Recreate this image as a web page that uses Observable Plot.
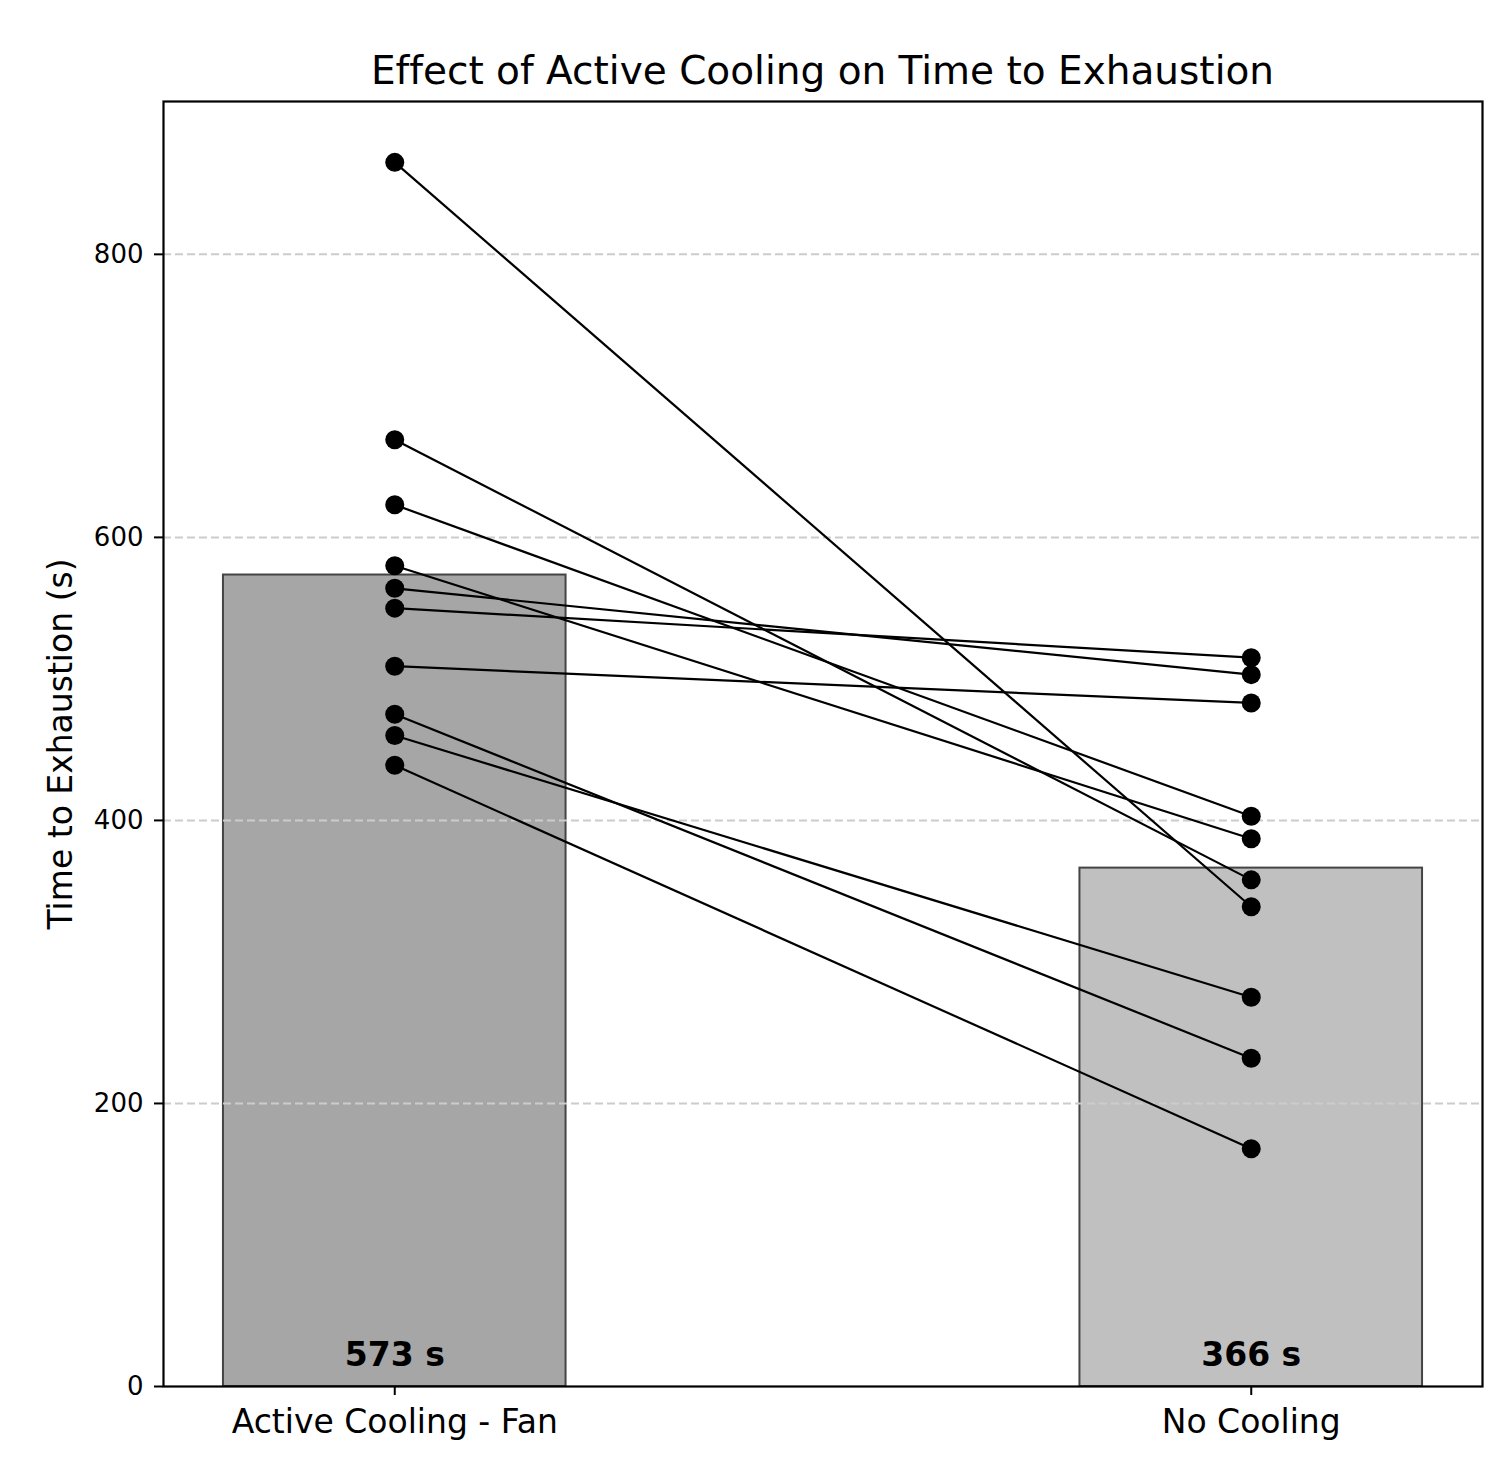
<!DOCTYPE html>
<html><head><meta charset="utf-8">
<script src="https://cdn.jsdelivr.net/npm/d3@7"></script>
<script src="https://cdn.jsdelivr.net/npm/@observablehq/plot@0.6"></script>
<style>
body{margin:0;background:#fff;font-family:"DejaVu Sans",sans-serif;}
#title{height:90px;box-sizing:border-box;padding:53px 26px 0 163px;text-align:center;font-size:39px;line-height:35px;color:#000;white-space:nowrap;font-variant-ligatures:none;font-feature-settings:"liga" 0;}
svg text{font-variant-ligatures:none;}
</style></head><body>
<div id="title">Effect of Active Cooling on Time to Exhaustion</div>
<div id="chart"></div>
<script>
const categories = ["Active Cooling - Fan", "No Cooling"];
const activeCooling = [865, 669, 623, 580, 564, 550, 509, 475, 460, 439];
const noCooling = [339, 358, 403, 387, 503, 515, 483, 232, 275, 168];
const yTicks = [0, 200, 400, 600, 800];
const gridTicks = [200, 400, 600, 800];
const barFills = ["#a6a6a6", "#c0c0c0"];
const yLabel = "Time to Exhaustion (s)";

const series = [activeCooling, noCooling];
const bars = categories.map((c, i) => ({i, cat: c, mean: d3.mean(series[i]), fill: barFills[i]}));
const pairs = activeCooling.map((a, k) => ({a, n: noCooling[k]}));
const dots = [];
series.forEach((s, i) => s.forEach(v => dots.push({i, v})));

const chart = Plot.plot({
  width: 1508,
  height: 1394,
  marginTop: 11,
  marginBottom: 98,
  marginLeft: 163,
  marginRight: 26,
  style: {fontFamily: "DejaVu Sans", background: "white", color: "black"},
  x: {type: "linear", domain: [-0.27, 1.27]},
  y: {domain: [0, 908]},
  marks: [
    Plot.rect(bars, {x1: d => d.i - 0.2, x2: d => d.i + 0.2, y1: d => 0, y2: "mean", fill: "fill", stroke: "#444", strokeWidth: 2}),
    Plot.gridY(gridTicks, {stroke: "#cccccc", strokeOpacity: 1, strokeWidth: 2, strokeDasharray: "8,4"}),
    Plot.link(pairs, {x1: d => 0, y1: "a", x2: d => 1, y2: "n", stroke: "black", strokeWidth: 2.2}),
    Plot.dot(dots, {x: "i", y: "v", r: 9.5, fill: "black", stroke: "none"}),
    Plot.text(bars, {x: "i", y: d => 0, text: d => `${Math.round(d.mean)} s`, lineAnchor: "bottom", dy: -21, fontSize: 33, fontWeight: "bold", fill: "black"}),
    Plot.axisY({ticks: yTicks, tickSize: 9, tickPadding: 11, fontSize: 26, label: null, strokeWidth: 2}),
    Plot.axisX({ticks: [0, 1], tickFormat: i => categories[i], tickSize: 9, tickPadding: 14, fontSize: 33, label: null, strokeWidth: 2}),
    Plot.text([yLabel], {frameAnchor: "left", rotate: -90, dx: -102, lineAnchor: "middle", textAnchor: "middle", fontSize: 33, fill: "black"}),
    Plot.frame({stroke: "black", strokeWidth: 2.2})
  ]
});
document.getElementById("chart").appendChild(chart);
</script>
</body></html>
